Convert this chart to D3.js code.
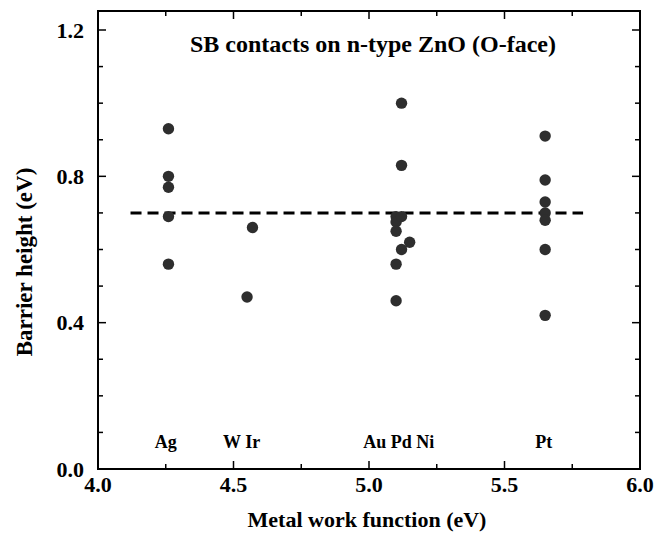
<!DOCTYPE html>
<html><head><meta charset="utf-8">
<script src="https://cdn.jsdelivr.net/npm/d3@7"></script>
<style>
html,body{margin:0;padding:0;background:#fff;}
text{font-family:"Liberation Serif","Times New Roman",serif;font-weight:bold;fill:#000;}
</style></head><body>
<svg id="chart" width="655" height="533"></svg>
<script>
const metals = ["Ag","W","Ir","Au","Pd","Ni","Pt"];
const workFunction = [4.26, 4.55, 4.57, 5.10, 5.12, 5.15, 5.65];
const barrierAg = [0.93, 0.80, 0.77, 0.69, 0.56];
const barrierW = [0.47];
const barrierIr = [0.66];
const barrierAu = [0.69, 0.675, 0.65, 0.56, 0.46];
const barrierPd = [1.00, 0.83, 0.69, 0.60];
const barrierNi = [0.62];
const barrierPt = [0.91, 0.79, 0.73, 0.70, 0.68, 0.60, 0.42];
const labelGroups = ["Ag","W Ir","Au Pd Ni","Pt"];
const labelX = [4.25, 4.53, 5.11, 5.645];
const meanBarrier = 0.70;
const meanRange = [4.12, 5.79];
const xTicks = [4.0, 4.5, 5.0, 5.5, 6.0];
const yTicks = [0.0, 0.4, 0.8, 1.2];
const titleText = "SB contacts on n-type ZnO (O-face)";
const xTitle = "Metal work function (eV)";
const yTitle = "Barrier height (eV)";

const barriers = [barrierAg, barrierW, barrierIr, barrierAu, barrierPd, barrierNi, barrierPt];
const points = [];
metals.forEach((m,i)=>barriers[i].forEach(v=>points.push({x:workFunction[i], y:v})));

const svg = d3.select("#chart");
const L=98, R=640, T=11, B=469;
const x = d3.scaleLinear().domain([4.0,6.0]).range([L,R]);
const y = d3.scaleLinear().domain([0,1.2]).range([B,30]);
const yTop = y.invert(T);

// frame
svg.append("rect").attr("x",L).attr("y",T).attr("width",R-L).attr("height",B-T)
  .attr("fill","none").attr("stroke","#000").attr("stroke-width",2);

// ticks
const xMinor = d3.range(4.0, 6.001, 0.25);
const yMinor = d3.range(0, 1.2501, 0.1).filter(v=>v<=yTop);
const tg = svg.append("g").attr("stroke","#000").attr("stroke-width",1.5);
xMinor.forEach(v=>{
  const major = xTicks.some(t=>Math.abs(t-v)<1e-6);
  const len = major?8:5;
  tg.append("line").attr("x1",x(v)).attr("x2",x(v)).attr("y1",B).attr("y2",B-len);
  tg.append("line").attr("x1",x(v)).attr("x2",x(v)).attr("y1",T).attr("y2",T+len);
});
yMinor.forEach(v=>{
  const major = yTicks.some(t=>Math.abs(t-v)<1e-6);
  const len = major?8:5;
  tg.append("line").attr("x1",L).attr("x2",L+len).attr("y1",y(v)).attr("y2",y(v));
  tg.append("line").attr("x1",R).attr("x2",R-len).attr("y1",y(v)).attr("y2",y(v));
});

// tick labels
svg.append("g").selectAll("text").data(xTicks).join("text")
  .attr("x",d=>x(d)).attr("y",B+23).attr("text-anchor","middle")
  .style("font-size","22px").text(d=>d.toFixed(1));
svg.append("g").selectAll("text").data(yTicks).join("text")
  .attr("x",L-14).attr("y",d=>y(d)+7.5).attr("text-anchor","end")
  .style("font-size","22px").text(d=>d.toFixed(1));

// axis titles
svg.append("text").attr("x",367).attr("y",527).attr("text-anchor","middle")
  .style("font-size","22px").text(xTitle);
svg.append("text").attr("transform",`translate(32,262) rotate(-90)`)
  .attr("text-anchor","middle").style("font-size","23px").text(yTitle);

// title
svg.append("text").attr("x",373).attr("y",52).attr("text-anchor","middle")
  .style("font-size","24px").text(titleText);

// dashed mean line
svg.append("line").attr("x1",x(meanRange[0])).attr("x2",x(meanRange[1]))
  .attr("y1",y(meanBarrier)).attr("y2",y(meanBarrier))
  .attr("stroke","#000").attr("stroke-width",3).attr("stroke-dasharray","11,6");

// points
svg.append("g").selectAll("circle").data(points).join("circle")
  .attr("cx",d=>x(d.x)).attr("cy",d=>y(d.y)).attr("r",5.7).attr("fill","#2e2e2e");

// metal labels
svg.append("g").selectAll("text").data(labelGroups).join("text")
  .attr("x",(d,i)=>x(labelX[i])).attr("y",448).attr("text-anchor","middle")
  .style("font-size","18px").text(d=>d);
</script></body></html>
